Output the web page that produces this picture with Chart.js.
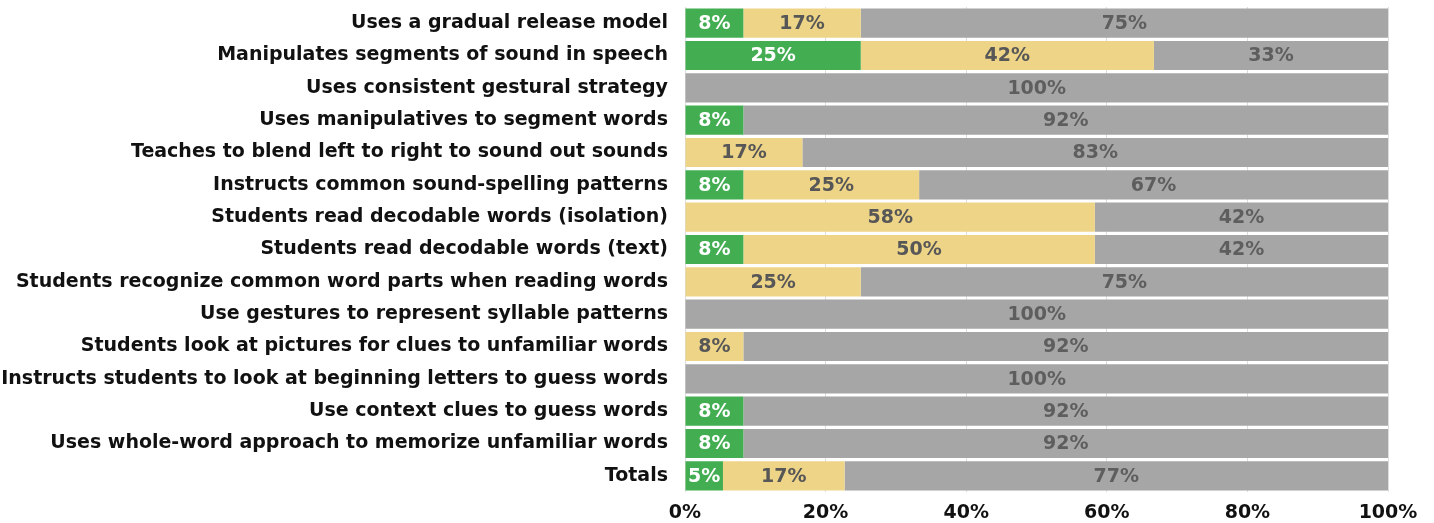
<!DOCTYPE html>
<html><head><meta charset="utf-8">
<script src="https://cdn.jsdelivr.net/npm/chart.js@4"></script>
<style>html,body{margin:0;padding:0;background:#fff}#wrap{width:1434px;height:523px}</style>
</head><body><div id="wrap"><canvas id="c" width="1434" height="523"></canvas></div>
<script>
const categories = [
  "Uses a gradual release model",
  "Manipulates segments of sound in speech",
  "Uses consistent gestural strategy",
  "Uses manipulatives to segment words",
  "Teaches to blend left to right to sound out sounds",
  "Instructs common sound-spelling patterns",
  "Students read decodable words (isolation)",
  "Students read decodable words (text)",
  "Students recognize common word parts when reading words",
  "Use gestures to represent syllable patterns",
  "Students look at pictures for clues to unfamiliar words",
  "Instructs students to look at beginning letters to guess words",
  "Use context clues to guess words",
  "Uses whole-word approach to memorize unfamiliar words",
  "Totals"
];
const greenValues  = [8.3, 25, 0, 8.3, 0, 8.3, 0, 8.3, 0, 0, 0, 0, 8.3, 8.3, 5.4];
const yellowValues = [16.7, 41.7, 0, 0, 16.7, 25, 58.3, 50, 25, 0, 8.3, 0, 0, 0, 17.3];
const grayValues   = [75, 33.3, 100, 91.7, 83.3, 66.7, 41.7, 41.7, 75, 100, 91.7, 100, 91.7, 91.7, 77.3];
const xTicks = [0, 20, 40, 60, 80, 100];

const FONT = "'DejaVu Sans', 'Open Sans', sans-serif";

const labelPlugin = {
  id: 'segLabels',
  afterDatasetsDraw(chart) {
    const ctx = chart.ctx;
    ctx.save();
    ctx.font = "bold 19px " + FONT;
    ctx.textAlign = 'center';
    ctx.textBaseline = 'middle';
    chart.data.datasets.forEach((ds, di) => {
      const meta = chart.getDatasetMeta(di);
      meta.data.forEach((bar, i) => {
        const v = ds.data[i];
        if (!v) return;
        const cx = (bar.x + bar.base) / 2;
        ctx.fillStyle = ds.labelColor;
        ctx.fillText(Math.round(v) + '%', cx, bar.y + 1);
      });
    });
    ctx.restore();
  }
};

new Chart(document.getElementById('c'), {
  type: 'bar',
  data: {
    labels: categories,
    datasets: [
      {data: greenValues, backgroundColor: '#43ad52', labelColor: '#ffffff'},
      {data: yellowValues, backgroundColor: '#edd487', labelColor: '#575757'},
      {data: grayValues, backgroundColor: '#a6a6a6', labelColor: '#5e5e5e'}
    ]
  },
  options: {
    indexAxis: 'y',
    responsive: false,
    animation: false,
    events: [],
    layout: {padding: {top: 7, right: 46, left: 0, bottom: 0}},
    datasets: {bar: {categoryPercentage: 1, barPercentage: 0.9, borderWidth: 0}},
    plugins: {legend: {display: false}, tooltip: {enabled: false}},
    scales: {
      x: {
        stacked: true, min: 0, max: 100,
        afterBuildTicks(s) { s.ticks = xTicks.map(v => ({value: v})); },
        grid: {color: '#dddddd', drawTicks: false},
        border: {display: false},
        ticks: {padding: 10, color: '#111', font: {family: FONT, size: 19, weight: 'bold'}, callback: v => v + '%', maxRotation: 0},
        afterFit(s) { s.height = 31; }
      },
      y: {
        stacked: true,
        grid: {display: false, drawTicks: false},
        border: {display: false},
        ticks: {padding: 17, color: '#111', font: {family: FONT, size: 19, weight: 'bold'}, autoSkip: false},
        afterFit(s) { s.width = 685; s.paddingTop = 0; s.paddingBottom = 0; }
      }
    }
  },
  plugins: [labelPlugin]
});
</script></body></html>
